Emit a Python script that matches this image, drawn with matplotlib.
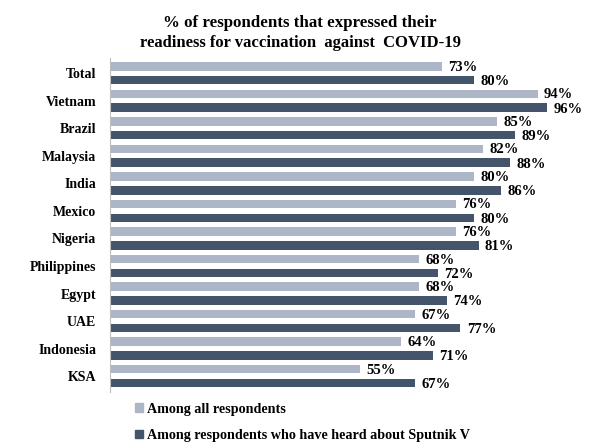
import matplotlib.pyplot as plt
import matplotlib.patches as mpatches
import numpy as np

countries = ['Total', 'Vietnam', 'Brazil', 'Malaysia', 'India', 'Mexico', 'Nigeria',
             'Philippines', 'Egypt', 'UAE', 'Indonesia', 'KSA']
all_resp = [73, 94, 85, 82, 80, 76, 76, 68, 68, 67, 64, 55]
heard_sputnik = [80, 96, 89, 88, 86, 80, 81, 72, 74, 77, 71, 67]
series_names = ['Among all respondents', 'Among respondents who have heard about Sputnik V']

light = '#ADB6C6'
dark = '#44546A'

plt.rcParams['font.family'] = ['Liberation Serif', 'DejaVu Serif']
plt.rcParams['font.weight'] = 'bold'

fig = plt.figure(figsize=(6, 4.47), dpi=100)
ax = fig.add_axes([110/600, 1-392/447, 480/600, (392-58)/447])

y = np.arange(len(countries))
off = 6.8/27.5
h = 8.5/27.5
ax.barh(y - off, all_resp, height=h, color=light)
ax.barh(y + off, heard_sputnik, height=h, color=dark)

for i in range(len(countries)):
    ax.text(all_resp[i] + 1.4, y[i] - off + 0.03, str(all_resp[i]) + '%',
            va='center', ha='left', fontsize=10.5, fontweight='bold')
    ax.text(heard_sputnik[i] + 1.4, y[i] + off + 0.05, str(heard_sputnik[i]) + '%',
            va='center', ha='left', fontsize=10.5, fontweight='bold')

ax.set_xlim(0, 480/4.55)
ax.set_ylim(11.58, -0.56)
ax.set_yticks(y)
ax.set_yticklabels(countries, fontsize=10, fontweight='bold')
ax.tick_params(axis='y', length=0, pad=10)
ax.set_xticks([])
for s in ['top', 'right', 'bottom']:
    ax.spines[s].set_visible(False)
ax.spines['left'].set_color('#BFBFBF')

fig.text(0.5, 1-23/447, '% of respondents that expressed their', ha='center', va='center',
         fontsize=12.2, fontweight='bold')
fig.text(0.5, 1-43/447, 'readiness for vaccination  against  COVID-19', ha='center', va='center',
         fontsize=12, fontweight='bold')

handles = [mpatches.Patch(color=light), mpatches.Patch(color=dark)]
fig.legend(handles, series_names, loc='upper left', bbox_to_anchor=(122/600, 1-390/447),
           frameon=False, handlelength=0.55, handleheight=0.55, handletextpad=0.3,
           labelspacing=0.95, prop={'size': 10.2, 'weight': 'bold'})

fig.savefig('out.png', dpi=100)
